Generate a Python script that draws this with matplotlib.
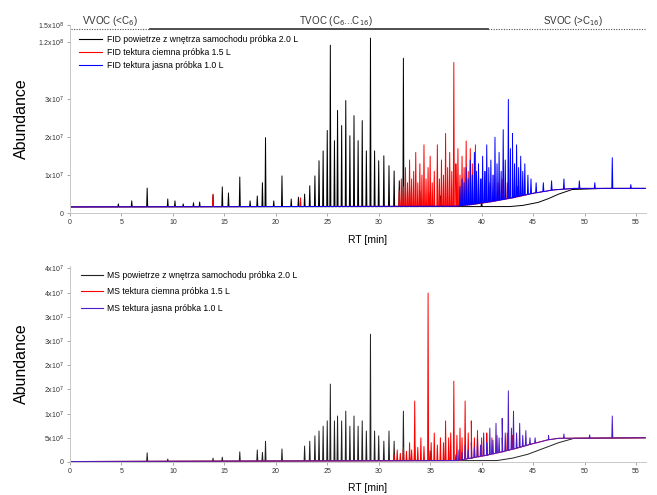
import numpy as np
import matplotlib
matplotlib.use("Agg")
import matplotlib.pyplot as plt
from matplotlib.scale import FuncScale

plt.rcParams['font.family'] = ['Liberation Sans', 'DejaVu Sans']

# ---------------- data (abundance in units of 1e6) ----------------
# FID baselines
fid_black_base_rt = [0, 42.7, 44.0, 45.5, 46.5, 47.5, 48.8, 52.0, 55.9]
fid_black_base_v = [1.6, 1.7, 2.0, 2.8, 3.8, 5.0, 6.2, 6.5, 6.5]
fid_col_base_rt = [0, 37.5, 39.0, 41.0, 43.0, 45.0, 47.0, 49.0, 55.9]
fid_col_base_v = [1.6, 1.8, 2.2, 3.0, 4.0, 5.2, 6.1, 6.5, 6.5]

# FID peaks: retention time [min] and apex abundance
fid_black_rt = [4.7, 6.0, 7.5, 9.5, 10.2, 11.0, 12.0, 12.6, 13.9, 14.8, 15.4, 16.5,
                17.5, 18.2, 18.7, 19.0, 19.8, 20.6, 21.5, 22.2, 22.8, 23.3, 23.8,
                24.2, 24.6, 25.0, 25.3, 25.7, 26.0, 26.4, 26.8, 27.2, 27.6, 28.0,
                28.4, 28.8, 29.2, 29.6, 30.0, 30.5, 31.0, 31.5, 32.0, 32.4, 33.0,
                34.0, 35.0, 36.0, 38.0, 40.0]
fid_black_v = [2.4, 3.2, 6.6, 3.7, 3.2, 2.4, 2.7, 2.9, 4.8, 6.9, 5.3, 9.5,
               3.2, 4.5, 8.0, 19.9, 3.2, 9.8, 3.7, 4.2, 5.0, 7.2, 9.8,
               13.8, 16.4, 21.8, 115.0, 19.1, 27.1, 23.1, 29.7, 20.4, 25.7, 19.1,
               24.4, 16.4, 127.0, 16.4, 13.8, 15.1, 12.5, 11.1, 8.5, 94.7, 7.2,
               5.8, 5.3, 4.5, 4.0, 3.7]
fid_red_rt = [13.9, 22.4, 32.0, 32.2, 32.4, 32.6, 32.8, 33.0, 33.2, 33.4, 33.6, 33.8,
              34.0, 34.2, 34.4, 34.6, 34.8, 35.0, 35.2, 35.4, 35.7, 35.9, 36.1,
              36.3, 36.5, 36.7, 36.9, 37.1, 37.3, 37.5, 37.7, 37.9, 38.1, 38.3,
              38.5, 38.7, 38.9, 39.1, 39.4, 39.7, 40.0, 40.4, 40.8, 41.2, 41.6,
              42.0, 42.5, 43.0, 43.5]
fid_red_v = [5.0, 4.0, 6, 9, 7, 12, 8, 14, 9, 11, 16, 8,
             13, 10, 18, 9, 12, 15, 8, 11, 18, 9, 14,
             10, 21, 12, 16, 11, 88, 13, 17, 10, 15, 12,
             19, 11, 17, 13, 18, 10, 9, 11, 8, 10, 8,
             9, 8, 9, 7]
fid_blue_rt = [37.9, 38.1, 38.3, 38.5, 38.7, 38.9, 39.1, 39.3, 39.5, 39.7, 39.9,
               40.1, 40.3, 40.5, 40.7, 40.9, 41.1, 41.3, 41.5, 41.7, 41.9, 42.1,
               42.3, 42.6, 42.8, 43.0, 43.2, 43.4, 43.6, 43.8, 44.0, 44.2, 44.5,
               44.8, 45.3, 46.0, 46.8, 48.0, 49.5, 51.0, 52.7, 54.5]
fid_blue_v = [7, 9, 8, 12, 9, 14, 10, 16, 11, 13, 9,
              15, 11, 18, 12, 14, 10, 20, 13, 16, 11, 22,
              14, 30, 17, 21, 13, 18, 12, 15, 11, 13, 10,
              9, 8, 8, 8.5, 9, 8.5, 8, 14.6, 7.5]

# MS baselines
ms_black_base_rt = [0, 41.5, 43.0, 44.5, 46.0, 47.5, 49.0, 55.9]
ms_black_base_v = [0.1, 0.3, 0.8, 1.6, 2.8, 4.0, 4.9, 5.0]
ms_col_base_rt = [0, 37.7, 39.0, 40.5, 42.0, 43.5, 45.0, 46.5, 47.5, 55.9]
ms_col_base_v = [0.1, 0.3, 0.8, 1.4, 2.1, 2.9, 3.8, 4.6, 4.9, 5.0]

ms_black_rt = [7.5, 9.5, 13.9, 14.8, 16.5, 18.2, 18.7, 19.0, 20.6, 22.8, 23.3, 23.8,
               24.2, 24.6, 25.0, 25.3, 25.7, 26.0, 26.4, 26.8, 27.2, 27.6, 28.0,
               28.4, 28.8, 29.2, 29.6, 30.0, 30.5, 31.0, 31.5, 32.4, 33.5, 35.0]
ms_black_v = [1.9, 0.6, 0.8, 1.0, 2.1, 2.5, 2.0, 4.3, 2.7, 3.3, 4.3, 5.4,
              6.4, 7.4, 8.5, 16.1, 8.5, 9.5, 8.5, 10.5, 7.4, 9.5, 7.4,
              8.5, 6.4, 26.4, 6.4, 5.4, 4.3, 6.4, 4.3, 10.5, 3.3, 2.3]
ms_red_rt = [31.5, 31.8, 32.1, 32.4, 32.7, 33.0, 33.2, 33.5, 33.8, 34.1, 34.4, 34.8,
             35.1, 35.4, 35.7, 36.0, 36.3, 36.5, 36.8, 37.0, 37.3, 37.6, 37.9,
             38.1, 38.4, 38.7, 39.0, 39.3, 39.6, 40.0, 40.5, 41.0, 41.5, 42.0,
             42.5, 43.0]
ms_red_v = [1.5, 2.5, 1.8, 3.0, 2.2, 4.0, 2.5, 12.6, 3.0, 5.0, 3.2, 34.9,
            4.0, 6.0, 3.5, 5.0, 4.0, 8.5, 5.0, 6.0, 16.7, 5.5, 7.0,
            5.0, 12.6, 6.0, 8.5, 5.0, 6.5, 5.0, 6.0, 5.0, 5.5, 5.0,
            6.0, 5.5]
ms_blue_rt = [37.5, 37.8, 38.1, 38.4, 38.7, 39.0, 39.3, 39.6, 39.9, 40.2, 40.5,
              40.8, 41.1, 41.4, 41.7, 42.0, 42.3, 42.6, 42.9, 43.1, 43.4, 43.7,
              44.0, 44.3, 44.7, 45.2, 46.5, 48.0, 50.5, 52.7]
ms_blue_v = [1.5, 2.5, 2.0, 3.5, 2.5, 4.0, 3.0, 5.0, 3.5, 6.0, 4.0,
             7.0, 4.5, 8.0, 5.0, 9.0, 6.0, 14.7, 7.0, 10.5, 6.0, 8.0,
             5.5, 6.5, 5.0, 5.0, 5.5, 5.8, 5.6, 9.5]

fid_labels = ["FID powietrze z wnętrza samochodu próbka 2.0 L",
              "FID tektura ciemna próbka 1.5 L",
              "FID tektura jasna próbka 1.0 L"]
ms_labels = ["MS powietrze z wnętrza samochodu próbka 2.0 L",
             "MS tektura ciemna próbka 1.5 L",
             "MS tektura jasna próbka 1.0 L"]

fid_yticks = [0, 10, 20, 30, 120, 150]
fid_yticklabels = ["0", "1x10$^7$", "2x10$^7$", "3x10$^7$", "1.2x10$^8$", "1.5x10$^8$"]
ms_yticks = [0, 5, 10, 15, 20, 25, 30, 35, 40]
ms_yticklabels = ["0", "5x10$^6$", "1x10$^7$", "2x10$^7$", "2x10$^7$", "3x10$^7$",
                  "3x10$^7$", "4x10$^7$", "4x10$^7$"]
xticks = [0, 5, 10, 15, 20, 25, 30, 35, 40, 45, 50, 55]

voc_ranges = [("VVOC (<C$_6$)", 0.1, 7.8, ":"), ("TVOC (C$_6$...C$_{16}$)", 7.8, 40.6, "-"),
              ("SVOC (>C$_{16}$)", 40.6, 55.9, ":")]
voc_label_x = [3.9, 25.8, 48.9]

fid_colors = ["#000000", "#ff0000", "#0000ff"]
ms_colors = ["#222222", "#ff0000", "#4b1cc8"]


def chrom(base_rt, base_v, rt, v):
    """Trace = baseline knots plus narrow triangular peaks on top of it."""
    xs = list(base_rt)
    ys = list(base_v)
    for r, a in zip(rt, v):
        b = float(np.interp(r, base_rt, base_v))
        xs += [r - 0.05, r, r + 0.05]
        ys += [b, a, b]
    order = np.argsort(xs, kind="stable")
    return np.asarray(xs)[order], np.asarray(ys)[order]


W, H = 657, 495
fig = plt.figure(figsize=(W / 100, H / 100), dpi=100)

X0 = 70
PXM = 10.29
XMAX = 56.0
x1 = X0 + PXM * XMAX
ax1 = fig.add_axes([X0 / W, 1 - 213 / H, (x1 - X0) / W, (213 - 25) / H])
ax2 = fig.add_axes([X0 / W, 1 - 462 / H, (x1 - X0) / W, (462 - 266) / H])

# compressed upper range on the FID axis
kv = [0, 30, 120, 150, 200]
kp = [0, 113, 170, 187, 220]
fwd = lambda y: np.interp(y, kv, kp)
inv = lambda p: np.interp(p, kp, kv)
ax1.set_yscale(FuncScale(ax1, (fwd, inv)))

fid_traces = [chrom(fid_black_base_rt, fid_black_base_v, fid_black_rt, fid_black_v),
              chrom(fid_col_base_rt, fid_col_base_v, fid_red_rt, fid_red_v),
              chrom(fid_col_base_rt, fid_col_base_v, fid_blue_rt, fid_blue_v)]
for (xs, ys), c, lab in zip(fid_traces, fid_colors, fid_labels):
    ax1.plot(xs, ys, color=c, lw=0.7, label=lab)

ms_traces = [chrom(ms_black_base_rt, ms_black_base_v, ms_black_rt, ms_black_v),
             chrom(ms_col_base_rt, ms_col_base_v, ms_red_rt, ms_red_v),
             chrom(ms_col_base_rt, ms_col_base_v, ms_blue_rt, ms_blue_v)]
for (xs, ys), c, lab in zip(ms_traces, ms_colors, ms_labels):
    ax2.plot(xs, ys, color=c, lw=0.7, label=lab)

ax1.set_ylim(0, 150)
ax2.set_ylim(0, 40.5)
for ax, yt, ytl in [(ax1, fid_yticks, fid_yticklabels), (ax2, ms_yticks, ms_yticklabels)]:
    ax.set_xlim(0, XMAX)
    ax.set_xticks(xticks)
    ax.set_xticklabels([str(t) for t in xticks])
    ax.set_yticks(yt)
    ax.set_yticklabels(ytl)
    ax.tick_params(labelsize=5, color="#999999", length=2.5, width=0.6,
                   labelcolor="#333333", pad=2)
    for s in ["top", "right"]:
        ax.spines[s].set_visible(False)
    for s in ["left", "bottom"]:
        ax.spines[s].set_color("#c8c8c8")
        ax.spines[s].set_linewidth(0.7)
    ax.set_ylabel("Abundance", fontsize=11.5)
    ax.yaxis.set_label_coords(-(X0 - 29) / (x1 - X0), 0.5)
    ax.set_xlabel("RT [min]", fontsize=7.5)

ax1.xaxis.set_label_coords((368 - X0) / (x1 - X0), -(235 - 213) / (213 - 25))
ax2.xaxis.set_label_coords((368 - X0) / (x1 - X0), -(483 - 462) / (462 - 266))

leg1 = ax1.legend(loc="upper left", fontsize=6.2, frameon=True, handlelength=2.7,
                  handletextpad=0.5, labelspacing=0.45, borderpad=0.2,
                  bbox_to_anchor=(73 / W, 1 - 29 / H), bbox_transform=fig.transFigure)
leg2 = ax2.legend(loc="upper left", fontsize=6.2, frameon=True, handlelength=2.6,
                  handletextpad=0.4, labelspacing=0.85, borderpad=0.2,
                  bbox_to_anchor=(75 / W, 1 - 265 / H), bbox_transform=fig.transFigure)
for lg in (leg1, leg2):
    lg.get_frame().set_edgecolor("none")
    lg.get_frame().set_facecolor("white")
    lg.get_frame().set_alpha(1)
    for ln in lg.get_lines():
        ln.set_linewidth(0.8)

# VOC range bar above top panel
tr = ax1.get_xaxis_transform()
ybar = (213 - 29) / (213 - 25)
ylab = (213 - 21) / (213 - 25)
for (txt, a, b, ls), lx in zip(voc_ranges, voc_label_x):
    if ls == "-":
        ax1.plot([a, b], [ybar, ybar], transform=tr, clip_on=False, color="#404040", lw=1.3)
    else:
        ax1.plot([a, b], [ybar, ybar], transform=tr, clip_on=False, color="#505050",
                 lw=0.8, ls=(0, (1, 1.3)))
    ax1.text(lx, ylab, txt, transform=tr, fontsize=7, ha="center", va="center",
             color="#333333")

fig.savefig("out.png", dpi=100)
